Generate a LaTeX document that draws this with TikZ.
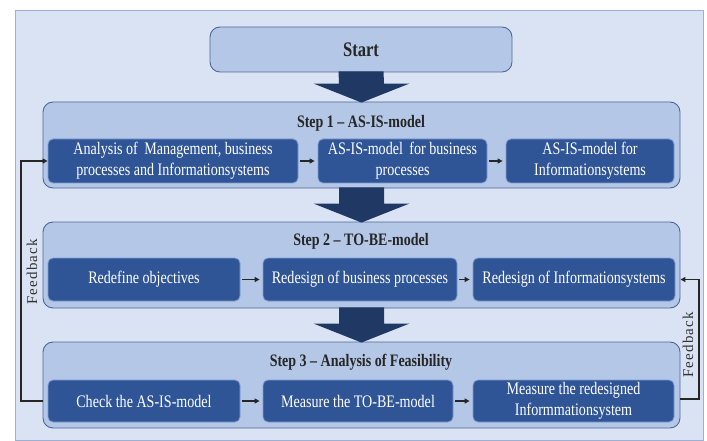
\documentclass[tikz,border=0pt]{standalone}
\usepackage{fontspec}
\setmainfont[FakeStretch=0.8]{Liberation Serif}
\newfontfamily\fbfont[LetterSpace=8]{Liberation Serif}
\usetikzlibrary{arrows.meta, positioning, calc}
\definecolor{bgpale}{HTML}{DAE3F3}
\definecolor{bgline}{HTML}{9DB0D3}
\definecolor{steplight}{HTML}{B4C7E7}
\definecolor{stepline}{HTML}{50679A}
\definecolor{taskdark}{HTML}{2F5597}
\definecolor{taskline}{HTML}{7F9BD0}
\definecolor{navy}{HTML}{1F3864}

\begin{document}
\begin{tikzpicture}[
    x=1pt, y=-1pt,
    stepbox/.style={rectangle, rounded corners=10pt, draw=stepline, line width=0.9pt, fill=steplight, minimum width=637pt, minimum height=86pt},
    steptitle/.style={font=\fontsize{17.5}{20}\selectfont\bfseries, text=black!85},
    task/.style={rectangle, rounded corners=5pt, draw=taskline, line width=0.8pt, fill=taskdark, text=white, align=center, inner sep=0pt, minimum height=#1, font=\fontsize{17.6}{21}\selectfont},
    task/.default=44pt,
    flow/.style={-{Triangle[length=5pt, width=5pt]}, line width=1.3pt, black!85, shorten <=2pt, shorten >=3pt},
    feedback/.style={-{Triangle[length=5pt, width=5pt]}, line width=1.3pt, black!85},
    fblabel/.style={rotate=90, font=\fbfont\fontsize{15}{18}\selectfont, text=black!80},
]
\useasboundingbox (0,0) rectangle (707,441);
\draw[bgline, fill=bgpale, line width=0.8pt] (15,10) rectangle (703,440);

% start and the three steps
\node[stepbox, minimum width=302pt, minimum height=45pt] (start) at (361,49.5) {};
\node[steptitle, font=\fontsize{20.7}{24}\selectfont\bfseries] at (start) {Start};
\node[stepbox] (stepone) at (361.5,145) {};
\node[stepbox] (steptwo) at (361.5,265) {};
\node[stepbox] (stepthree) at (361.5,385) {};
\node[steptitle] (titleone) at (361,123) {Step 1 -- AS-IS-model};
\node[steptitle] (titletwo) at (361,241) {Step 2 -- TO-BE-model};
\node[steptitle] (titlethree) at (361,362) {Step 3 -- Analysis of Feasibility};

% big arrows between the steps
\foreach \a/\b in {start/stepone, stepone/steptwo, steptwo/stepthree}{
  \fill[navy] ($(\a.south)+(-22.5,-1)$) -- ($(\b.north)+(-22.5,-18)$) -- ($(\b.north)+(-48,-18)$)
    -- ($(\b.north)+(0,1)$) -- ($(\b.north)+(48,-18)$) -- ($(\b.north)+(22.5,-18)$)
    -- ($(\a.south)+(22.5,-1)$) -- cycle;
}

% step 1
\node[task, minimum width=250pt] (anamgmt) at (173,161) {Analysis of\, Management, business\\processes and Informationsystems};
\node[task, minimum width=169pt] (asisbp) at (402.5,161) {AS-IS-model\, for business\\processes};
\node[task, minimum width=168pt] (asisis) at (590,161) {AS-IS-model for\\Informationsystems};

% step 2
\node[task=43pt, minimum width=192pt] (objectives) at (144,279.5) {Redefine objectives};
\node[task=43pt, minimum width=194pt] (redesbp) at (360,279.5) {Redesign of business processes};
\node[task=43pt, minimum width=202pt] (redesis) at (574,279.5) {Redesign of Informationsystems};

% step 3
\node[task=42pt, minimum width=192pt] (checkasis) at (144,401) {Check the AS-IS-model};
\node[task=42pt, minimum width=190pt] (meastobe) at (358,401) {Measure the TO-BE-model};
\node[task=42pt, minimum width=201pt] (measis) at (573.5,401) {Measure the redesigned\\Informmationsystem};

\draw[flow] (anamgmt) -- (asisbp);
\draw[flow] (asisbp) -- (asisis);
\draw[flow] (objectives) -- (redesbp);
\draw[flow] (redesbp) -- (redesis);
\draw[flow] (checkasis) -- (meastobe);
\draw[flow] (meastobe) -- (measis);

% feedback loops
\coordinate (fbleft) at (21,0);
\coordinate (fbright) at (699,0);
\draw[feedback] (checkasis -| stepthree.west) -- (checkasis -| fbleft) -- (anamgmt -| fbleft) -- (anamgmt.west);
\draw[feedback] ($(measis -| stepthree.east)+(0,-2)$) -- ($(measis -| fbright)+(0,-2)$) -- (redesis -| fbright) -- (redesis -| steptwo.east);
\node[fblabel] (fbtextleft) at (32,272) {Feedback};
\node[fblabel] (fbtextright) at (688,345) {Feedback};
\end{tikzpicture}
\end{document}
